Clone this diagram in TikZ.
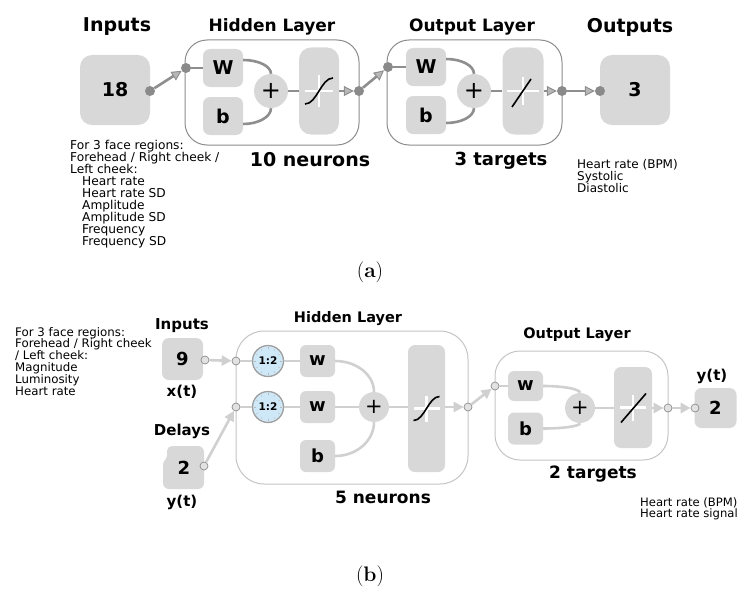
\documentclass[tikz,border=0pt]{standalone}
\usepackage{fontspec}
\newfontfamily\vf{DejaVu Sans}
\usetikzlibrary{arrows.meta,calc}

\definecolor{boxgray}{HTML}{D8D8D8}
\definecolor{lineA}{HTML}{8E8E8E}
\definecolor{tipA}{HTML}{B8B8B8}
\definecolor{dotA}{HTML}{8A8A8A}
\definecolor{frameA}{HTML}{8C8C8C}
\definecolor{lineB}{HTML}{D0D0D0}
\definecolor{frameB}{HTML}{C4C4C4}
\definecolor{dotB}{HTML}{8C8C8C}
\definecolor{dotBfill}{HTML}{E2E2E2}
\definecolor{clockfill}{HTML}{CFE8F8}

\newcommand{\fsz}[1]{\fontsize{#1}{#1}\selectfont}
% quarter-ellipse wire from a box port (#2) to a summing-junction port (#3)
\newcommand{\bend}[3]{%
  \draw[#1] (#2) .. controls ($(#2)!0.55!(#3 |- #2)$) and ($(#3)!0.55!(#3 |- #2)$) .. (#3);}

\tikzset{
  gbox/.style={fill=boxgray, inner sep=0pt, text=black},
  bigA/.style={gbox, rounded corners=12pt, minimum width=70pt, minimum height=70pt, font=\vf\bfseries\fsz{19}},
  wbA/.style={gbox, rounded corners=7pt, minimum width=40pt, minimum height=38pt, font=\vf\bfseries\fsz{19}},
  plusA/.style={circle, fill=boxgray, inner sep=0pt, minimum size=34pt, font=\vf\fsz{24}},
  tfA/.style={gbox, rounded corners=12pt, minimum width=40pt, minimum height=87pt},
  frameA/.style={draw=frameA, line width=1pt, rounded corners=22pt, inner sep=0pt},
  dotA/.style={circle, fill=dotA, minimum size=10pt, inner sep=0pt},
  wireA/.style={draw=lineA, line width=2.6pt},
  arrA/.style={wireA, -{Triangle[length=10pt,width=10pt,line width=1pt,fill=tipA]}},
  bigB/.style={gbox, rounded corners=7pt, minimum width=41pt, minimum height=42pt, font=\vf\bfseries\fsz{18}},
  wbB/.style={gbox, rounded corners=6pt, minimum width=35pt, minimum height=32pt, font=\vf\bfseries\fsz{18}},
  plusB/.style={circle, fill=boxgray, inner sep=0pt, minimum size=30pt, font=\vf\fsz{21}},
  tfB/.style={gbox, rounded corners=7pt},
  frameB/.style={draw=frameB, line width=1pt, rounded corners=28pt, inner sep=0pt},
  dotB/.style={circle, draw=dotB, fill=dotBfill, line width=0.7pt, minimum size=8pt, inner sep=0pt},
  wireB/.style={draw=lineB, line width=2.6pt},
  arrB/.style={wireB, -{Triangle[length=10pt,width=10pt,fill=lineB]}},
  clock/.style={circle, fill=clockfill, draw=gray!75, line width=1.3pt, minimum size=31pt, inner sep=0pt, font=\vf\bfseries\fsz{10.5}},
  cross/.style={draw=white, line width=2.6pt},
  curve/.style={draw=black, line width=1.6pt},
  desc/.style={anchor=north west, align=left, inner sep=0pt},
  lbl/.style={anchor=base, inner sep=0pt},
}

\begin{document}
\begin{tikzpicture}[x=1pt,y=-1pt]
\useasboundingbox (0,0) rectangle (738,594);

% ---------------- (a) static network ----------------
\node[frameA, minimum width=174pt, minimum height=105pt] (hidA) at (272,92.5) {};
\node[frameA, minimum width=175pt, minimum height=105pt] (outLA) at (474.5,92.5) {};

\node[bigA] (inA) at (115,90) {18};
\node[dotA] (a0) at (150,91) {};
\node[dotA] (a1) at (186,68) {};
\node[wbA] (wA) at (223,68) {W};
\node[wbA] (bA) at (223,116) {b};
\node[plusA] (pA) at (271,91) {+};
\node[tfA] (tA) at (319,91) {};
\node[dotA] (a2) at (359,91) {};
\node[dotA] (a3) at (388,67) {};
\node[wbA] (wA2) at (426,67) {W};
\node[wbA] (bA2) at (426,115) {b};
\node[plusA] (pA2) at (474,91) {+};
\node[tfA, minimum width=41pt] (tA2) at (523,91) {};
\node[dotA] (a4) at (562,91) {};
\node[bigA] (outA) at (635,90) {3};
\node[dotA] (a5) at (600,91) {};

% ports on the weight and bias boxes
\coordinate (wAr) at ([yshift=8pt]wA.east);
\coordinate (bAr) at ([yshift=-8pt]bA.east);
\coordinate (wA2r) at ([yshift=8pt]wA2.east);
\coordinate (bA2r) at ([yshift=-8pt]bA2.east);

\draw[arrA] (a0) -- (a1);
\draw[wireA] (a1) -- (wA);
\bend{wireA}{wAr}{pA.north}
\bend{wireA}{bAr}{pA.south}
\draw[wireA] (pA) -- (tA);
\draw[arrA] (tA) -- (a2);
\draw[arrA] (a2) -- (a3);
\draw[wireA] (a3) -- (wA2);
\bend{wireA}{wA2r}{pA2.north}
\bend{wireA}{bA2r}{pA2.south}
\draw[wireA] (pA2) -- (tA2);
\draw[arrA] (tA2) -- (a4);
\draw[arrA] (a4) -- (a5);

% transfer symbols: sigmoid and linear
\begin{scope}[shift={(tA.center)}]
  \draw[cross] (-14,0) -- (14,0) (0,-16) -- (0,16);
  \draw[curve] (-14,13) .. controls (-2,13) and (2,-13) .. (14,-13);
\end{scope}
\begin{scope}[shift={(tA2.center)}]
  \draw[cross] (-16,0) -- (16,0) (0,-14) -- (0,14);
  \draw[curve] (-11,16) -- (8,-12);
\end{scope}

\node[lbl, font=\vf\bfseries\fsz{19}] (ttlInA) at (117,32) {Inputs};
\node[lbl, font=\vf\bfseries\fsz{17}] (ttlHidA) at (272,32) {Hidden Layer};
\node[lbl, font=\vf\bfseries\fsz{17}] (ttlOutLA) at (472,32) {Output Layer};
\node[lbl, font=\vf\bfseries\fsz{19}] (ttlOutA) at (630,33) {Outputs};
\node[lbl, font=\vf\bfseries\fsz{19}] (nnA) at (310,166) {10 neurons};
\node[lbl, font=\vf\bfseries\fsz{18}] (tgA) at (501,165) {3 targets};

\node[desc, font=\vf\fontsize{12.2}{12}\selectfont] (descInA) at (70,139.8)
  {For 3 face regions:\\Forehead / Right cheek /\\Left cheek:\\
   \hspace*{12pt}Heart rate\\\hspace*{12pt}Heart rate SD\\\hspace*{12pt}Amplitude\\
   \hspace*{12pt}Amplitude SD\\\hspace*{12pt}Frequency\\\hspace*{12pt}Frequency SD};
\node[desc, font=\vf\fontsize{12}{12}\selectfont] (descOutA) at (577,158.9)
  {Heart rate (BPM)\\Systolic\\Diastolic};

\node[lbl, font=\fsz{21}] (capA) at (370,277) {(\textbf{a})};

% ---------------- (b) network with delays ----------------
\node[frameB, minimum width=232pt, minimum height=153pt] (hidB) at (352,407.5) {};
\node[frameB, minimum width=173pt, minimum height=109pt, rounded corners=25pt] (outLB) at (581.5,405.5) {};

\node[bigB] (inB) at (182.5,359) {9};
\node[dotB] (b0) at (205,360) {};
\node[dotB] (b1) at (236,361) {};
\node[dotB] (b2) at (236,407) {};

% delay block: rounded box with a small step in its left edge
\fill[boxgray, rounded corners=6pt] (185,446) -- (204,446) -- (204,489) -- (163,489)
  [rounded corners=2pt] -- (163,462) -- (167,458)
  [rounded corners=5pt] -- (167,446) -- cycle;
\node[inner sep=0pt, font=\vf\bfseries\fsz{18}] (dlB) at (184,467.5) {2};
\node[dotB] (b3) at (204,466) {};

\node[clock] (c1) at (268,361) {1:2};
\node[clock] (c2) at (268,407) {1:2};
\foreach \c in {c1,c2}{
  \begin{scope}[shift={(\c.center)}]
    \foreach \a in {0,30,...,330}
      \draw[gray!55, line width=0.4pt] (\a:11.8) -- (\a:13.6);
  \end{scope}
}
\node[wbB] (wB1) at (317.5,361) {w};
\node[wbB] (wB2) at (317.5,407) {w};
\node[wbB] (bB) at (317.5,456) {b};
\node[plusB] (pB) at (374,407) {+};
\node[tfB, minimum width=37pt, minimum height=127pt] (tB) at (426.5,408.5) {};
\node[dotB] (b4) at (468,407) {};
\node[dotB] (b5) at (495,386) {};
\node[wbB, minimum height=30pt] (wB3) at (525.5,386) {w};
\node[wbB] (bB2) at (525.5,428.5) {b};
\node[plusB] (pB2) at (580,408) {+};
\node[tfB, minimum width=38pt, minimum height=81pt] (tB2) at (633,407.5) {};
\node[dotB] (b6) at (668,408) {};
\node[bigB, minimum width=42pt, minimum height=40pt] (yB) at (715.5,408) {2};
\node[dotB] (b7) at (695,408) {};

\draw[arrB] (b0) -- (b1);
\draw[arrB] (b3) -- (b2);
\draw[wireB] (b1) -- (c1);
\draw[wireB] (c1) -- (wB1);
\draw[wireB] (b2) -- (c2);
\draw[wireB] (c2) -- (wB2);
\draw[wireB] (wB2) -- (pB);
\bend{wireB}{wB1.east}{pB.north}
\bend{wireB}{bB.east}{pB.south}
\draw[wireB] (pB.east) -- (pB.east -| tB.west);
\draw[arrB] (tB.east |- b4) -- (b4);
\draw[arrB] (b4) -- (b5);
\draw[wireB] (b5) -- (wB3);
\bend{wireB}{wB3.east}{pB2.north}
\bend{wireB}{bB2.east}{pB2.south}
\draw[wireB] (pB2.east) -- (pB2.east -| tB2.west);
\draw[arrB] (tB2.east |- b6) -- (b6);
\draw[arrB] (b6) -- (b7);

\begin{scope}[shift={(tB.center)}]
  \draw[cross] (-13,0) -- (13,0) (0,-13) -- (0,13);
  \draw[curve] (-13,12) .. controls (-2,12) and (2,-12) .. (13,-12);
\end{scope}
\begin{scope}[shift={(tB2.center)}]
  \draw[cross] (-13,0) -- (13,0) (0,-13) -- (0,13);
  \draw[curve] (-12,15) -- (13,-14);
\end{scope}

\node[lbl, font=\vf\bfseries\fsz{15}] (ttlInB) at (182,329) {Inputs};
\node[lbl, font=\vf\bfseries\fsz{15}] (xtB) at (182,396) {x(t)};
\node[lbl, font=\vf\bfseries\fsz{15}] (ttlDlB) at (182,435) {Delays};
\node[lbl, font=\vf\bfseries\fsz{15}] (ytB) at (182,506) {y(t)};
\node[lbl, font=\vf\bfseries\fsz{14.5}] (ttlHidB) at (348,322) {Hidden Layer};
\node[lbl, font=\vf\bfseries\fsz{14.5}] (ttlOutLB) at (577,338) {Output Layer};
\node[lbl, font=\vf\bfseries\fsz{15}] (ytB2) at (712,380) {y(t)};
\node[lbl, font=\vf\bfseries\fsz{17}] (nnB) at (383,503) {5 neurons};
\node[lbl, font=\vf\bfseries\fsz{17}] (tgB) at (593,478) {2 targets};

\node[desc, font=\vf\fontsize{11.8}{11.8}\selectfont] (descInB) at (15,327)
  {For 3 face regions:\\Forehead / Right cheek\\/ Left cheek:\\Magnitude\\Luminosity\\Heart rate};
\node[desc, font=\vf\fontsize{11.6}{11.5}\selectfont] (descOutB) at (640,497.2)
  {Heart rate (BPM)\\Heart rate signal};

\node[lbl, font=\fsz{21}] (capB) at (370,581) {(\textbf{b})};
\end{tikzpicture}
\end{document}
